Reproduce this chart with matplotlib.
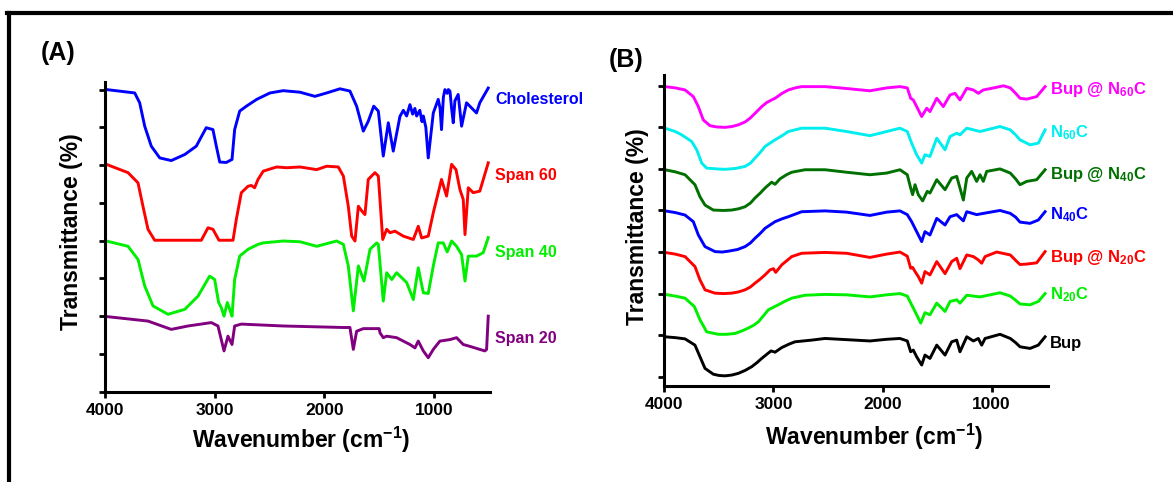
import matplotlib
matplotlib.use("Agg")
import matplotlib.pyplot as plt
from matplotlib.lines import Line2D

plt.rcParams["font.family"] = ["Liberation Sans", "DejaVu Sans"]
plt.rcParams["font.weight"] = "bold"
plt.rcParams["mathtext.fontset"] = "custom"
plt.rcParams["mathtext.rm"] = "Liberation Sans:bold"
plt.rcParams["mathtext.it"] = "Liberation Sans:bold"
plt.rcParams["mathtext.bf"] = "Liberation Sans:bold"

# ---- Panel A: raw materials (offset stacked transmittance) ----
chol_wn = [3988, 3729, 3684, 3638, 3578, 3501, 3396, 3273, 3168, 3077, 3016, 2985,
           2954, 2894, 2842, 2818, 2772, 2711, 2617, 2496, 2375, 2222, 2086, 1979,
           1858, 1767, 1706, 1645, 1600, 1550, 1508, 1463, 1417, 1372, 1311, 1280,
           1250, 1220, 1195, 1175, 1159, 1130, 1110, 1098, 1075, 1053, 1007, 962,
           945, 932, 915, 901, 880, 870, 855, 840, 825, 810, 780, 749, 704, 613,
           583, 506]
chol_t = [8.0, 7.91, 7.65, 7.03, 6.5, 6.19, 6.12, 6.28, 6.5, 6.99, 6.94, 6.5,
          6.08, 6.07, 6.15, 6.94, 7.43, 7.56, 7.74, 7.91, 7.97, 7.93, 7.82, 7.91,
          8.02, 7.96, 7.56, 6.9, 7.16, 7.56, 7.43, 6.24, 7.12, 6.37, 7.29, 7.45,
          7.3, 7.6, 7.35, 7.5, 7.3, 7.45, 7.15, 7.3, 7.0, 6.19, 7.38, 7.74,
          7.5, 6.94, 7.8, 8.0, 7.9, 8.0, 7.96, 7.5, 7.12, 7.7, 7.87, 7.03, 7.65, 7.38,
          7.65, 8.04]

s60_wn = [3988, 3790, 3699, 3654, 3608, 3547, 3122, 3061, 3016, 2961, 2833, 2803,
          2757, 2696, 2666, 2636, 2605, 2557, 2435, 2344, 2222, 2070, 1979, 1873,
          1827, 1782, 1751, 1721, 1690, 1660, 1630, 1600, 1539, 1508, 1468, 1432,
          1402, 1356, 1281, 1189, 1144, 1113, 1053, 1007, 962, 932, 886, 840, 800,
          764, 734, 718, 688, 643, 583, 506]
s60_t = [6.02, 5.8, 5.53, 4.91, 4.3, 4.01, 4.01, 4.34, 4.3, 4.01, 4.01, 4.56,
         5.27, 5.44, 5.46, 5.4, 5.62, 5.84, 5.95, 5.93, 5.95, 5.88, 5.97, 5.95,
         5.71, 4.91, 4.12, 3.99, 4.91, 4.79, 4.69, 5.62, 5.8, 5.71, 4.03, 4.3,
         4.21, 4.25, 4.12, 4.03, 4.38, 4.07, 4.12, 4.74, 5.27, 5.62, 5.18, 6.02, 5.88,
         5.35, 5.09, 4.16, 5.4, 5.27, 5.31, 6.06]

s40_wn = [3988, 3790, 3699, 3638, 3562, 3426, 3273, 3152, 3046, 3000, 2964, 2940,
          2915, 2885, 2863, 2842, 2818, 2772, 2696, 2605, 2557, 2375, 2222, 2070,
          1888, 1827, 1782, 1736, 1690, 1639, 1584, 1523, 1508, 1463, 1432, 1386,
          1341, 1250, 1189, 1144, 1098, 1053, 1007, 962, 916, 880, 840, 795, 749,
          718, 688, 613, 552, 506]
s40_t = [3.99, 3.85, 3.5, 2.8, 2.27, 2.05, 2.18, 2.53, 3.06, 2.97, 2.36, 2.23,
         2.0, 2.36, 2.18, 2.0, 2.97, 3.59, 3.77, 3.9, 3.94, 3.99, 3.97, 3.85,
         3.99, 3.9, 3.33, 2.14, 3.33, 2.93, 3.77, 3.94, 3.9, 2.4, 3.15, 2.97,
         3.15, 2.89, 2.44, 3.28, 2.62, 2.6, 3.33, 3.94, 3.94, 3.7, 3.99, 3.85, 3.63,
         2.93, 3.59, 3.59, 3.68, 4.08]

s20_wn = [3988, 3608, 3396, 3243, 3031, 2970, 2915, 2879, 2842, 2818, 2757, 2375,
          1827, 1767, 1736, 1706, 1645, 1500, 1493, 1463, 1432, 1341, 1220, 1174,
          1144, 1098, 1053, 1007, 947, 855, 795, 734, 673, 583, 537, 521, 506]
s20_t = [1.99, 1.87, 1.65, 1.74, 1.83, 1.74, 1.08, 1.47, 1.25, 1.74, 1.79, 1.74,
         1.7, 1.7, 1.12, 1.6, 1.67, 1.67, 1.56, 1.43, 1.47, 1.43, 1.25, 1.16,
         1.34, 1.08, 0.9, 1.12, 1.34, 1.38, 1.43, 1.25, 1.2, 1.12, 1.08, 1.12, 2.0]

# ---- Panel B: drug loaded niosomes ----
bn60_wn = [3994, 3900, 3810, 3734, 3688, 3643, 3581, 3520, 3444, 3380, 3322, 3260,
           3214, 3160, 3107, 3060, 3016, 2985, 2920, 2863, 2800, 2741, 2527, 2390,
           2115, 1962, 1840, 1773, 1742, 1718, 1687, 1641, 1595, 1565, 1503, 1443,
           1381, 1336, 1290, 1228, 1167, 1122, 1076, 999, 890, 829, 780, 740, 678,
           587, 510]
bn60_t = [6.98, 6.95, 6.9, 6.74, 6.5, 6.18, 6.04, 6.01, 6.0, 6.02, 6.06, 6.13,
          6.22, 6.36, 6.5, 6.6, 6.66, 6.7, 6.82, 6.9, 6.95, 6.98, 6.98, 6.95,
          6.88, 6.95, 6.98, 6.95, 6.7, 6.66, 6.5, 6.26, 6.46, 6.38, 6.7, 6.5,
          6.78, 6.82, 6.66, 6.94, 6.9, 6.82, 6.9, 6.94, 7.0, 6.95, 6.82, 6.7, 6.68,
          6.74, 6.98]

n60_wn = [3994, 3900, 3841, 3749, 3703, 3657, 3612, 3520, 3444, 3350, 3260, 3210,
          3169, 3120, 3077, 2985, 2920, 2863, 2741, 2527, 2329, 2115, 1962, 1840,
          1773, 1733, 1687, 1641, 1611, 1565, 1503, 1427, 1381, 1320, 1290, 1228,
          1106, 1045, 923, 829, 780, 740, 648, 572, 510]
n60_t = [5.98, 5.9, 5.82, 5.66, 5.46, 5.14, 5.02, 5.0, 4.99, 5.01, 5.06, 5.14,
         5.26, 5.4, 5.54, 5.7, 5.8, 5.9, 5.98, 5.98, 5.9, 5.8, 5.9, 5.98,
         5.9, 5.62, 5.34, 5.14, 5.34, 5.3, 5.74, 5.46, 5.78, 5.86, 5.82, 5.98,
         5.9, 5.94, 6.02, 5.94, 5.82, 5.7, 5.58, 5.62, 5.94]

bn40_wn = [3994, 3900, 3810, 3719, 3673, 3627, 3551, 3460, 3383, 3320, 3260, 3210,
           3169, 3120, 3077, 3016, 2985, 2940, 2880, 2832, 2710, 2527, 2329, 2115,
           1962, 1840, 1773, 1742, 1724, 1702, 1672, 1632, 1590, 1565, 1503, 1427,
           1366, 1320, 1259, 1228, 1183, 1137, 1106, 1076, 1045, 923, 829, 780, 740,
           678, 587, 510]
bn40_t = [4.98, 4.93, 4.86, 4.62, 4.33, 4.13, 4.01, 4.0, 4.01, 4.04, 4.09, 4.18,
          4.3, 4.42, 4.54, 4.68, 4.63, 4.76, 4.86, 4.92, 4.98, 4.98, 4.92, 4.86,
          4.9, 4.98, 4.86, 4.54, 4.38, 4.62, 4.38, 4.23, 4.46, 4.42, 4.74, 4.5,
          4.78, 4.82, 4.25, 4.78, 4.94, 4.7, 4.86, 4.7, 4.94, 5.0, 4.9, 4.76, 4.62,
          4.7, 4.74, 4.98]

n40_wn = [3994, 3900, 3810, 3734, 3688, 3627, 3535, 3470, 3413, 3330, 3260, 3210,
          3169, 3120, 3077, 2985, 2920, 2863, 2741, 2527, 2329, 2115, 1962, 1840,
          1773, 1733, 1687, 1641, 1611, 1565, 1503, 1427, 1381, 1320, 1259, 1228,
          1137, 1076, 923, 829, 780, 740, 648, 572, 510]
n40_t = [3.99, 3.95, 3.89, 3.73, 3.41, 3.13, 3.01, 3.0, 3.02, 3.06, 3.13, 3.22,
         3.33, 3.45, 3.57, 3.73, 3.8, 3.85, 3.97, 3.99, 3.96, 3.88, 3.96, 3.99,
         3.9, 3.73, 3.49, 3.25, 3.49, 3.41, 3.81, 3.65, 3.85, 3.9, 3.75, 3.97,
         3.9, 3.93, 4.0, 3.93, 3.84, 3.72, 3.69, 3.77, 3.97]

bn20_wn = [3994, 3900, 3810, 3719, 3673, 3627, 3535, 3460, 3383, 3320, 3260, 3210,
           3169, 3120, 3077, 3031, 3000, 2979, 2924, 2832, 2741, 2527, 2329, 2115,
           1962, 1840, 1773, 1742, 1724, 1702, 1672, 1641, 1611, 1565, 1503, 1427,
           1366, 1320, 1290, 1228, 1167, 1122, 1091, 1060, 954, 829, 780, 740, 678,
           587, 510]
bn20_t = [2.99, 2.95, 2.89, 2.65, 2.33, 2.09, 2.01, 2.0, 2.01, 2.04, 2.09, 2.16,
          2.25, 2.35, 2.45, 2.57, 2.6, 2.51, 2.69, 2.89, 2.97, 2.99, 2.97, 2.87,
          2.95, 3.0, 2.9, 2.61, 2.63, 2.53, 2.41, 2.25, 2.53, 2.45, 2.77, 2.48,
          2.77, 2.85, 2.6, 2.93, 2.89, 2.81, 2.73, 2.89, 3.0, 2.93, 2.8, 2.7, 2.71,
          2.74, 3.01]

n20_wn = [3994, 3900, 3810, 3725, 3673, 3612, 3505, 3430, 3352, 3290, 3230, 3180,
          3138, 3090, 3046, 2955, 2890, 2832, 2710, 2527, 2329, 2115, 1962, 1840,
          1773, 1733, 1687, 1650, 1611, 1565, 1503, 1427, 1381, 1320, 1290, 1228,
          1106, 923, 829, 780, 740, 648, 572, 510]
n20_t = [1.98, 1.94, 1.89, 1.69, 1.37, 1.08, 1.02, 1.02, 1.04, 1.1, 1.17, 1.24,
         1.32, 1.47, 1.61, 1.73, 1.82, 1.89, 1.96, 1.98, 1.97, 1.92, 1.97, 2.0,
         1.94, 1.73, 1.49, 1.29, 1.54, 1.49, 1.77, 1.57, 1.81, 1.85, 1.77, 1.96,
         1.92, 2.02, 1.94, 1.84, 1.75, 1.73, 1.81, 2.0]

bup_wn = [3994, 3900, 3810, 3719, 3673, 3627, 3551, 3500, 3444, 3380, 3322, 3260,
          3199, 3150, 3107, 3060, 3022, 2985, 2924, 2860, 2802, 2650, 2527, 2390,
          2115, 1962, 1840, 1773, 1742, 1718, 1687, 1641, 1611, 1565, 1503, 1427,
          1366, 1320, 1290, 1228, 1167, 1122, 1091, 1060, 923, 829, 780, 740, 648,
          572, 510]
bup_t = [0.96, 0.94, 0.91, 0.76, 0.48, 0.2, 0.06, 0.03, 0.02, 0.04, 0.08, 0.15,
         0.24, 0.34, 0.44, 0.54, 0.62, 0.59, 0.7, 0.78, 0.84, 0.88, 0.92, 0.9,
         0.86, 0.9, 0.92, 0.86, 0.6, 0.64, 0.48, 0.28, 0.52, 0.44, 0.76, 0.52,
         0.84, 0.88, 0.6, 0.96, 0.86, 0.92, 0.76, 0.92, 1.02, 0.92, 0.82, 0.72, 0.68,
         0.76, 0.96]

W, H = 1173, 482
fig = plt.figure(figsize=(W / 100, H / 100), dpi=100)


def style_axes(ax, xmax_lim, ylim, yticks):
    ax.set_xlim(4000, xmax_lim)
    ax.set_ylim(*ylim)
    for s in ("top", "right"):
        ax.spines[s].set_visible(False)
    for s in ("left", "bottom"):
        ax.spines[s].set_linewidth(2.2)
    ax.set_xticks([4000, 3000, 2000, 1000])
    ax.set_yticks(yticks)
    ax.set_yticklabels([])
    ax.tick_params(direction="out", length=4, width=2, labelsize=12.5, pad=4)
    ax.set_xlabel(r"Wavenumber (cm$^{-1}$)", fontsize=16.5, fontweight="bold", va="center")
    ax.set_ylabel("Transmittance (%)", fontsize=16.5, fontweight="bold", va="center")


lw = 2.1

# panel A
axA = fig.add_axes([105 / W, 1 - 391.7 / H, 385 / W, 309.7 / H])
axA.plot(chol_wn, chol_t, color="#0000ff", lw=lw)
axA.plot(s60_wn, s60_t, color="#ff0000", lw=lw)
axA.plot(s40_wn, s40_t, color="#00ee00", lw=lw)
axA.plot(s20_wn, s20_t, color="#800080", lw=lw)
style_axes(axA, 490, (0, 8.2), range(0, 9))
axA.xaxis.set_label_coords(0.509, -0.156)
axA.yaxis.set_label_coords(-0.086, 0.516)
for txt, y, c in [("Cholesterol", 7.74, "#0000ff"), ("Span 60", 5.72, "#ff0000"),
                  ("Span 40", 3.69, "#00ee00"), ("Span 20", 1.41, "#800080")]:
    axA.text(440, y, txt, color=c, fontsize=11.5, fontweight="bold",
             ha="left", va="center", clip_on=False)

# panel B
axB = fig.add_axes([664.3 / W, 1 - 386 / H, 383.4 / W, 311 / H])
series_b = [
    (bn60_wn, bn60_t, "#ff00ff", r"Bup @ N$_{60}$C", 6.90),
    (n60_wn, n60_t, "#00eeee", r"N$_{60}$C", 5.87),
    (bn40_wn, bn40_t, "#007000", r"Bup @ N$_{40}$C", 4.86),
    (n40_wn, n40_t, "#0000ff", r"N$_{40}$C", 3.89),
    (bn20_wn, bn20_t, "#ff0000", r"Bup @ N$_{20}$C", 2.86),
    (n20_wn, n20_t, "#00ee00", r"N$_{20}$C", 1.97),
    (bup_wn, bup_t, "#000000", "Bup", 0.81),
]
for wn, t, c, lab, ly in series_b:
    axB.plot(wn, t, color=c, lw=lw)
    axB.text(465, ly, lab, color=c, fontsize=12, fontweight="bold",
             ha="left", va="center", clip_on=False)
style_axes(axB, 486, (-0.224, 7.26), range(0, 8))
axB.xaxis.set_label_coords(0.547, -0.164)
axB.yaxis.set_label_coords(-0.071, 0.511)

for lab in axA.get_xticklabels() + axB.get_xticklabels():
    lab.set_fontweight("bold")

fig.text(58 / W, 1 - 53 / H, "(A)", fontsize=18, fontweight="heavy", ha="center", va="center")
fig.text(626 / W, 1 - 60 / H, "(B)", fontsize=18, fontweight="heavy", ha="center", va="center")

# outer frame (partially cropped box)
fig.add_artist(Line2D([7 / W, 1], [1 - 13 / H, 1 - 13 / H], color="black", lw=3,
                      transform=fig.transFigure))
fig.add_artist(Line2D([9 / W, 9 / W], [1 - 13 / H, 0], color="black", lw=3,
                      transform=fig.transFigure))

fig.savefig("out.png", dpi=100)
